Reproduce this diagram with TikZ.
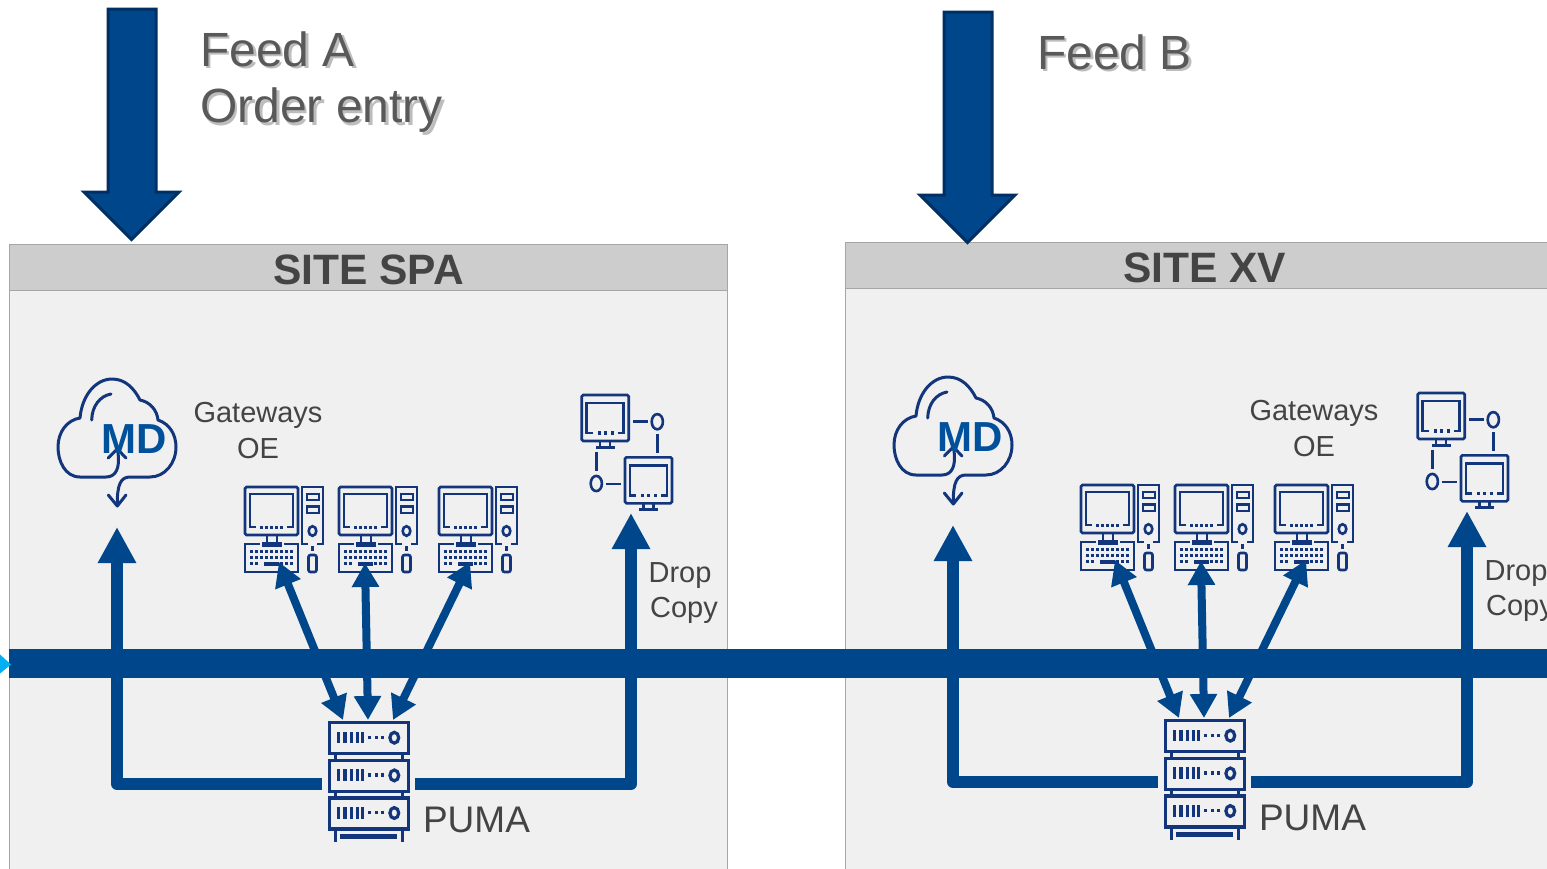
\documentclass[tikz,border=0pt]{standalone}
\usepackage{fontspec}
\setmainfont{Liberation Sans}
\usetikzlibrary{arrows.meta}
\definecolor{busblue}{HTML}{00468B}
\definecolor{edgeblue}{HTML}{002F63}
\definecolor{iconblue}{HTML}{12357C}
\definecolor{mdblue}{HTML}{00509B}
\definecolor{txtgray}{HTML}{444444}
\definecolor{feedgray}{HTML}{595959}
\definecolor{panelgray}{HTML}{F0F0F0}
\definecolor{headgray}{HTML}{CDCDCD}
\definecolor{linegray}{HTML}{A6A6A6}
\definecolor{cyanmark}{HTML}{00B0F0}
\tikzset{
  panelbox/.style={fill=panelgray,draw=linegray,line width=1.2pt},
  headbox/.style={fill=headgray,draw=linegray,line width=1.2pt},
  icon/.style={draw=iconblue,line width=2.6pt,line join=miter},
  iconthick/.style={draw=iconblue,line width=3.2pt},
  iconfill/.style={fill=iconblue,draw=none},
  thinlink/.style={draw=busblue,line width=8pt,{Triangle[length=24pt,width=26pt]}-{Triangle[length=24pt,width=26pt]}},
  biglink/.style={draw=busblue,line width=12pt,line join=round,-{Triangle[length=36pt,width=36pt]}},
  feedarrow/.style={fill=busblue,draw=edgeblue,line width=3pt,line join=miter},
  label/.style={text=txtgray,font=\fontsize{29}{36}\selectfont,inner sep=0pt,align=center},
  puma/.style={text=txtgray,font=\fontsize{37}{44}\selectfont,inner sep=0pt},
  sitehead/.style={text=txtgray,font=\fontsize{42.5}{48}\selectfont\bfseries,inner sep=0pt},
  feedtext/.style={text=feedgray,font=\fontsize{48}{56}\selectfont,inner sep=0pt,anchor=west},
  feedshadow/.style={text=feedgray!40,font=\fontsize{48}{56}\selectfont,inner sep=0pt,anchor=west},
  mdtext/.style={text=mdblue,font=\fontsize{42}{48}\selectfont\bfseries,inner sep=0pt},
}
\newcommand{\iconPC}[2]{%
  \begin{scope}[shift={(#1,#2)}]
    \draw[icon,rounded corners=1.5pt] (1,0) rectangle (54,48);
    \draw[icon] (12,40) -- (6,40) -- (6,7) -- (49,7) -- (49,40) -- (43,40);
    \foreach \k in {16,21,26,31,36}{\fill[iconfill] (\k,38.5) rectangle ++(2.8,3.2);}
    \draw[icon] (23,48) -- (23,55) (33,48) -- (33,55);
    \fill[iconfill] (18,55) rectangle (38,59.5);
    \draw[icon] (16,57) -- (1,57) -- (1,85) -- (54,85) -- (54,57) -- (40,57);
    \foreach \k in {7,12,17,22,27,32,37,42,47}{
      \fill[iconfill] (\k-1.5,62.5) rectangle ++(3.2,3.4);
      \fill[iconfill] (\k-1.5,69) rectangle ++(3.2,3.4);
    }
    \foreach \k in {7,12,37,42,47}{\fill[iconfill] (\k-1.5,75) rectangle ++(3.2,3.4);}
    \fill[iconfill] (20,75) rectangle (35,78.5);
    \draw[icon] (64,57) -- (58,57) -- (58,0) -- (79,0) -- (79,57) -- (73,57);
    \draw[icon] (63,7) rectangle (75,13);
    \draw[icon] (63,19.5) rectangle (75,26);
    \draw[icon] (68.5,44) ellipse (3.8 and 4.8);
    \draw[icon] (68.5,59) -- (68.5,64);
    \draw[icon,rounded corners=2pt] (64.5,68) rectangle (72.5,85);
  \end{scope}}
\newcommand{\iconScreen}[2]{%
  \begin{scope}[shift={(#1,#2)}]
    \draw[icon,rounded corners=1.5pt] (0,0) rectangle (47,46);
    \draw[icon] (11,38) -- (5,38) -- (5,8) -- (42,8) -- (42,38) -- (36,38);
    \foreach \k in {16,22,29}{\fill[iconfill] (\k,36.4) rectangle ++(3,3.2);}
    \draw[icon] (18.3,46) -- (18.3,52) (28.3,46) -- (28.3,52);
    \fill[iconfill] (14,51) rectangle (33,54);
  \end{scope}}
\newcommand{\iconServerBox}[1]{%
  \begin{scope}[yshift=-#1pt]
    \draw[iconthick] (0,1) rectangle (79,32);
    \foreach \k/\w in {9/2.8,15/3.8,22/2.8,28/2.8,33/2.8}{\fill[iconfill] (\k-1,10) rectangle ++(\w,11.5);}
    \foreach \k in {39,46,52}{\fill[iconfill] (\k,14) rectangle ++(3,3.4);}
    \draw[iconthick] (65,16) ellipse (4.4 and 5.4);
  \end{scope}}
\newcommand{\iconServer}[2]{%
  \begin{scope}[shift={(#1,#2)}]
    \iconServerBox{0}
    \iconServerBox{37.7}
    \iconServerBox{75.3}
    \draw[iconthick] (6,32) -- (6,38) (73,32) -- (73,38);
    \draw[iconthick] (6,70) -- (6,76) (73,70) -- (73,76);
    \draw[iconthick] (6,108) -- (6,120) (73,108) -- (73,120);
    \fill[iconfill] (11,112) rectangle (68,117);
  \end{scope}}
\newcommand{\sitepanel}{%
  \node[panelbox,minimum width=718pt,minimum height=640pt,anchor=north west,inner sep=0pt] (panel) at (8.8,244) {};
  \node[headbox,minimum width=718pt,minimum height=46pt,anchor=north west,inner sep=0pt] (header) at (8.8,244) {};
}
\newcommand{\sitebody}[2]{%
  % cloud
  \draw[icon,line width=3pt,line cap=round,line join=round]
    (118,453) .. controls (120,468) and (116,477) .. (106,477)
    -- (80,477) .. controls (65,477) and (58,461) .. (58,447)
    .. controls (58,432) and (67,420) .. (80,418)
    .. controls (82,395) and (96,379) .. (112,379)
    .. controls (125,379) and (134,388) .. (140,400)
    .. controls (150,402) and (157,410) .. (158,420)
    .. controls (170,424) and (176,435) .. (176,447)
    .. controls (176,463) and (165,477) .. (150,477)
    -- (130,477) .. controls (121,477) and (117,484) .. (117.3,505);
  \draw[icon,line width=3pt,line cap=round,line join=round] (108.3,495) -- (117.3,506) -- (126,495);
  \draw[icon,line width=3pt,line cap=round,line join=round] (108.3,458) -- (117.3,449) -- (126,458);
  \draw[icon,line width=3pt,line cap=round] (91.7,420) .. controls (92,406) and (100,396) .. (111,394);
  \node[mdtext] (md) at (134,439.5) {MD};
  \node[label] (gw) at (#2,431) {Gateways\\OE};
  \iconPC{244}{487}
  \iconPC{338}{487}
  \iconPC{438}{487}
  % network icon
  \iconScreen{581.7}{395}
  \iconScreen{625}{457.3}
  \draw[icon] (633.3,421.7) -- (647.7,421.7);
  \draw[icon] (657.3,421.7) ellipse (5.6 and 7.6);
  \draw[icon] (657.3,434.3) -- (657.3,452.7);
  \draw[icon] (596.3,452.3) -- (596.3,470.7);
  \draw[icon] (596.3,483.5) ellipse (5.6 and 7.6);
  \draw[icon] (606,484) -- (621,484);
  \iconServer{329.3}{721.7}
  \node[label] (drop) at (680,575.5) {Drop};
  \node[label] (copy) at (684,610) {Copy};
  \node[puma] (pumatxt) at (476.5,819.5) {PUMA};
  \node[sitehead] (sitetitle) at (368.5,269.5) {#1};
  % connector ends
  \coordinate (pcA) at (279,562);
  \coordinate (pcB) at (365,563);
  \coordinate (pcC) at (470,562);
  \coordinate (srvA) at (343,720);
  \coordinate (srvB) at (368,720);
  \coordinate (srvC) at (393,720);
  \coordinate (mdEnd) at (117,527);
  \coordinate (dcEnd) at (631,513);
  \coordinate (srvL) at (322,784);
  \coordinate (srvR) at (415,784);
  \draw[thinlink] (pcA) -- (srvA);
  \draw[thinlink] (pcB) -- (srvB);
  \draw[thinlink] (pcC) -- (srvC);
  \draw[biglink] (srvL) -| (mdEnd);
  \draw[biglink] (srvR) -| (dcEnd);
}
\begin{document}
\begin{tikzpicture}[x=1pt,y=-1pt]
  \useasboundingbox (0,0) rectangle (1547,868);
  \clip (0,0) rectangle (1547,868);
  \fill[white] (0,0) rectangle (1547,868);
  % panels
  \begin{scope}[name prefix=a-]\sitepanel\end{scope}
  \begin{scope}[shift={(836,-2)},name prefix=b-]\sitepanel\end{scope}
  % bus
  \fill[busblue] (9,649) rectangle (1547,678);
  \fill[cyanmark] (0,654.5) -- (11,664.5) -- (0,673.5) -- cycle;
  % sites
  \begin{scope}[name prefix=a-]\sitebody{SITE SPA}{258}\end{scope}
  \begin{scope}[shift={(836,-2)},name prefix=b-]\sitebody{SITE XV}{478}\end{scope}
  % feeds
  \draw[feedarrow] (108,9) -- (156,9) -- (156,192) -- (179,192) -- (131.5,239.5) -- (84,192) -- (108,192) -- cycle;
  \draw[feedarrow] (944,12) -- (992,12) -- (992,195) -- (1015,195) -- (967.5,242.5) -- (920,195) -- (944,195) -- cycle;
  \node[feedshadow] (fas) at (202.5,51.5) {Feed A};
  \node[feedtext] (fa) at (200,49) {Feed A};
  \node[feedshadow] (oes) at (202.5,113) {Order entry};
  \node[feedtext] (oe) at (200,110.5) {Order entry};
  \node[feedshadow] (fbs) at (1039.5,54.5) {Feed B};
  \node[feedtext] (fb) at (1037,52) {Feed B};
\end{tikzpicture}
\end{document}
